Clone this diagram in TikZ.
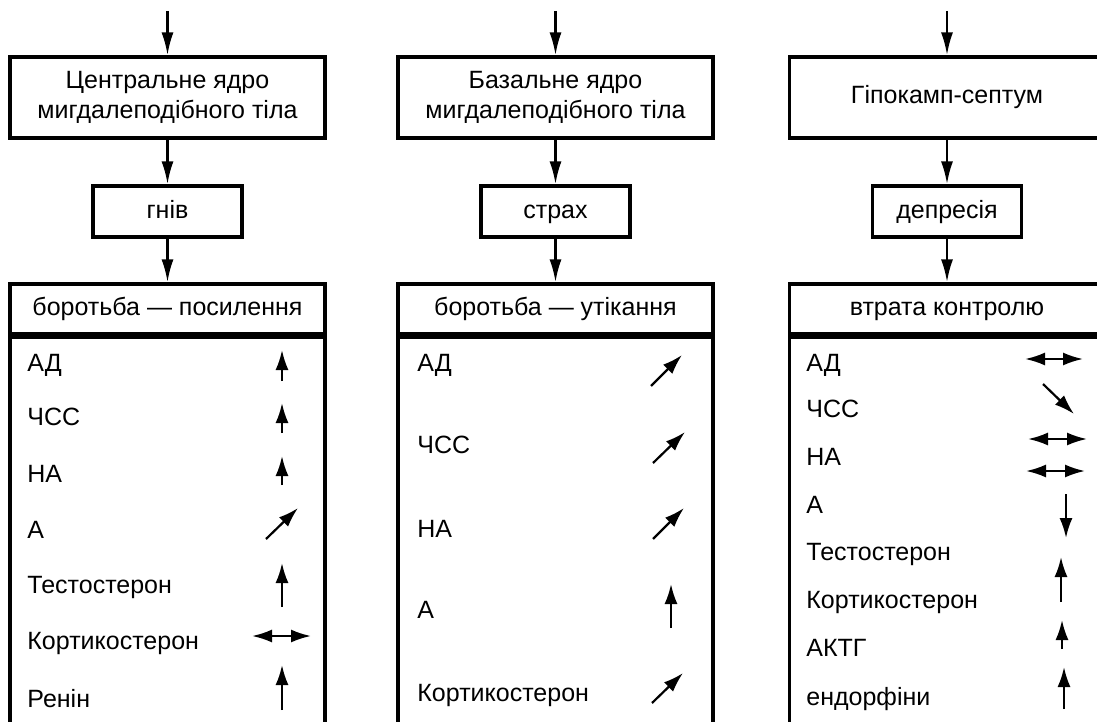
\documentclass[tikz,border=0pt]{standalone}
\usepackage{fontspec}
\setmainfont{Liberation Sans}
\usetikzlibrary{arrows.meta}

\begin{document}
\begin{tikzpicture}[x=0.5pt,y=-0.5pt,font=\fontsize{12.5}{15}\selectfont,
    box/.style={draw,line width=1.6pt,inner sep=0pt,align=center,minimum width=157.5pt},
    line/.style={text height=9pt,text depth=2.5pt},
    item/.style={anchor=base west,inner sep=0pt},
    flow/.style={line width=1.3pt,-{Latex[length=11.5pt,width=6pt]}},
    trend/.style={line width=1.1pt,-{Latex[length=10pt,width=6.5pt]}}]
    \clip (0,0) rectangle (1097,722);
    \foreach \c/\x/\name/\emo/\head in {1/167.5/{Центральне ядро\\мигдалеподібного тіла}/гнів/{боротьба — посилення},2/555.5/{Базальне ядро\\мигдалеподібного тіла}/страх/{боротьба — утікання},3/947/{Гіпокамп-септум}/депресія/{втрата контролю}}
    {
        \coordinate (in\c) at (\x,11);
        \node[box,minimum height=40.5pt] (top\c) at (\x,97.5) {\name};
        \node[box,line,minimum width=74.5pt,minimum height=25.5pt] (emo\c) at (\x,211.5) {\emo};
        \node[box,line,minimum height=25pt] (head\c) at (\x,309) {\head};
        \node[box,minimum height=220pt,anchor=north] (body\c) at (head\c.south) {};
        \draw[flow] (in\c) -- (top\c);
        \draw[flow] (top\c) -- (emo\c);
        \draw[flow] (emo\c) -- (head\c);
    }
    \foreach \t/\y [count=\i] in {АД/371,ЧСС/425,НА/482,А/538,Тестостерон/593,Кортикостерон/649,Ренін/707}
    {
        \node[item] (a\i) at (27,\y) {\t};
    }
    \foreach \t/\y [count=\i] in {АД/371,ЧСС/453,НА/537,А/618,Кортикостерон/701}
    {
        \node[item] (b\i) at (417,\y) {\t};
    }
    \foreach \t/\y [count=\i] in {АД/371,ЧСС/417,НА/465,А/513,Тестостерон/560,Кортикостерон/608,АКТГ/656,ендорфіни/705}
    {
        \node[item] (c\i) at (806,\y) {\t};
    }
    \foreach \x/\y/\dx/\dy in {282/381/0/-31,282/433/0/-30,282/485/0/-29,266/539/32/-31,282/607/0/-44,281.5/636/-29.5/0,281.5/636/29.5/0,282/710/0/-45,
        651/386/31/-31,653/463/32/-31,653/539/31/-31,671/628/0/-44,652/703/31/-30,
        1054/359/-29/0,1054/359/29/0,1043/384/31/30,1057.5/439/-29.5/0,1057.5/439/29.5/0,1055.5/471/-29.5/0,1055.5/471/29.5/0,1066/494/0/44,1061/602/0/-45,1062/649/0/-29,1064/709/0/-42}
    {
        \draw[trend] (\x,\y) -- ++(\dx,\dy);
    }
\end{tikzpicture}
\end{document}
